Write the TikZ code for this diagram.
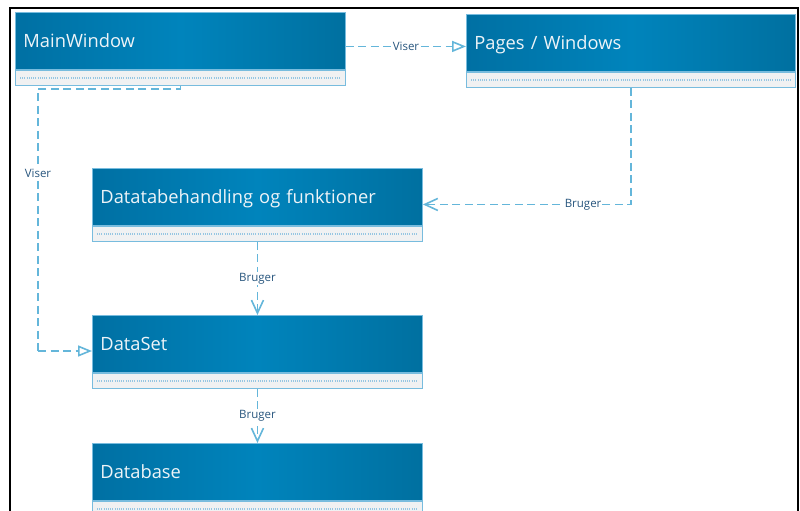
\documentclass[tikz,border=0pt]{standalone}
\usepackage{fontspec}
\setmainfont{Open Sans}
\usetikzlibrary{arrows.meta}

\definecolor{headL}{RGB}{0,112,163}
\definecolor{headM}{RGB}{0,132,188}
\definecolor{headR}{RGB}{0,112,160}
\definecolor{edgeblue}{RGB}{120,188,222}
\definecolor{compfill}{RGB}{240,241,242}
\definecolor{dotblue}{RGB}{150,198,226}
\definecolor{connblue}{RGB}{100,182,218}
\definecolor{lbltext}{RGB}{40,86,126}
\definecolor{headtext}{RGB}{238,244,248}

\tikzset{
  classhead/.style={draw=edgeblue, line width=0.9pt, left color=headL, right color=headR,
    middle color=headM, minimum width=330pt, minimum height=57pt, anchor=north west,
    inner xsep=8pt, text width=314pt, align=left, text height=13pt, text depth=0pt,
    font=\fontsize{18.3}{21}\selectfont, text=headtext},
  classcomp/.style={draw=edgeblue, line width=0.9pt, fill=compfill, minimum width=330pt,
    minimum height=15pt, anchor=north west, inner sep=0pt},
  compdots/.style={dotblue, line width=1.3pt, dash pattern=on 1pt off 1.2pt},
  conn/.style={connblue, line width=1.8pt, dash pattern=on 8pt off 4.5pt},
  lbl/.style={fill=white, inner sep=1pt, text=lbltext, font=\fontsize{11.5}{13}\selectfont},
  showtip/.style={-{Triangle[open, length=14pt, width=11pt, line width=1.6pt]}},
  usetip/.style={-{Straight Barb[length=13pt, width=12pt, line width=1.6pt]}}
}

\begin{document}
\begin{tikzpicture}[x=1pt, y=-1pt]
  \clip (0,0) rectangle (800,511);
  \fill[white] (0,0) rectangle (800,511);
  % outer frame
  \draw[black, line width=2pt] (9.5,8.5) rectangle (797.5,540);

  % classes: header + member compartment
  \node[classhead] (mw) at (15,12) {MainWindow};
  \node[classcomp] (mwc) at (mw.south west) {};
  \node[classhead, minimum width=329pt, text width=313pt] (pw) at (466,14) {Pages / Windows};
  \node[classcomp, minimum width=329pt] (pwc) at (pw.south west) {};
  \node[classhead] (dt) at (92,168) {Datatabehandling og funktioner};
  \node[classcomp] (dtc) at (dt.south west) {};
  \node[classhead] (ds) at (92,315) {DataSet};
  \node[classcomp] (dsc) at (ds.south west) {};
  \node[classhead] (db) at (92,443) {Database};
  \node[classcomp] (dbc) at (db.south west) {};

  \foreach \c in {mwc,pwc,dtc,dsc,dbc}
    \draw[compdots] ([xshift=5pt]\c.west) -- ([xshift=-5pt]\c.east);

  % MainWindow shows Pages / Windows
  \coordinate (v1) at ([yshift=-5.5pt]mw.east);
  \draw[conn, showtip] (v1) -- node[lbl] {Viser} (v1 -| pw.west);

  % MainWindow shows DataSet
  \coordinate (c2a) at (38,89);
  \coordinate (c2b) at (38,351);
  \draw[conn] (mwc.south) |- (c2a) -- node[lbl, pos=0.32] {Viser} (c2b);
  \draw[conn, showtip] (c2b) -- (c2b -| ds.west);

  % Pages / Windows use data handling
  \draw[conn, usetip] (pwc.south) |- node[lbl, pos=0.615] {Bruger} ([yshift=-7.5pt]dt.east);

  % data handling uses DataSet, DataSet uses Database
  \draw[conn, usetip] (dtc.south) -- node[lbl] {Bruger} (ds.north);
  \draw[conn, usetip] (dsc.south) -- node[lbl] {Bruger} (db.north);
\end{tikzpicture}
\end{document}
